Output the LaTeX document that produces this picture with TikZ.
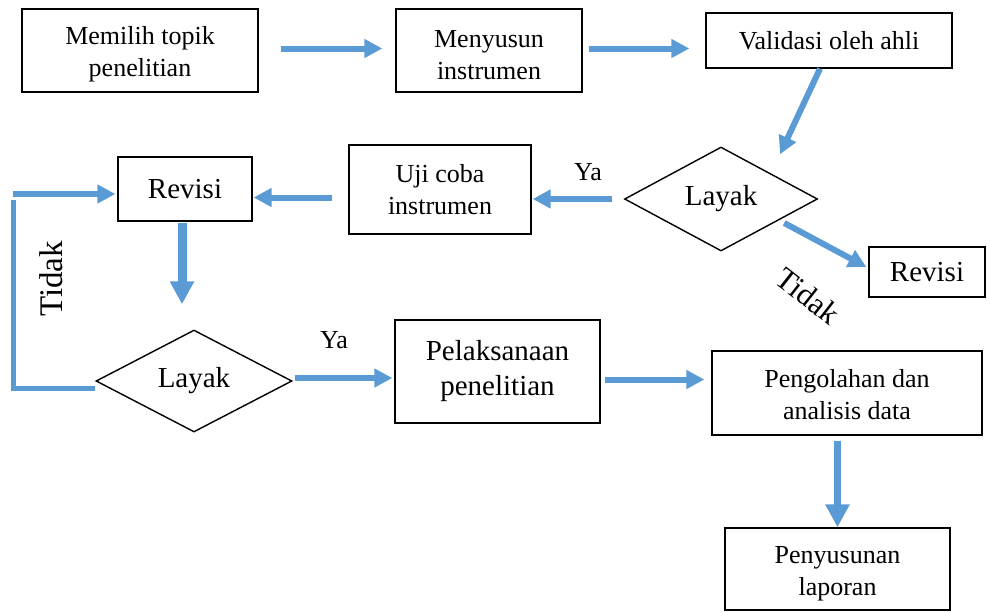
\documentclass[tikz,border=0pt]{standalone}
\usepackage{fontspec}
\setmainfont{Liberation Serif}
\usetikzlibrary{arrows.meta,shapes.geometric,calc}
\definecolor{arrblue}{HTML}{5B9BD5}
\newcommand{\dn}{\rule{0pt}{26pt}}
\begin{document}
\begin{tikzpicture}[x=1pt,y=-1pt,
  box/.style={draw=black,line width=1.3pt,rectangle,inner sep=0pt,align=center,font=\fontsize{26}{32}\selectfont},
  bigtxt/.style={font=\fontsize{29}{35}\selectfont},
  dia/.style={draw=black,line width=1.4pt,diamond,inner sep=0pt,font=\fontsize{29}{35}\selectfont},
  arr/.style={draw=arrblue,line width=6pt,-{Triangle[length=18pt,width=18pt]}},
  thickarr/.style={draw=arrblue,line width=9pt,-{Triangle[length=23pt,width=23pt]}},
  lbl/.style={inner sep=0pt,font=\fontsize{26}{31}\selectfont}]
\useasboundingbox (0,0) rectangle (990,611);
% nodes
\node[box,minimum width=236pt,minimum height=83pt] (b1) at (140,50.5) {\dn Memilih topik\\penelitian};
\node[box,minimum width=186pt,minimum height=83pt] (b2) at (489,50.5) {\dn Menyusun\\instrumen};
\node[box,minimum width=246pt,minimum height=55pt] (b3) at (829,40.5) {Validasi oleh ahli};
\node[dia,minimum width=193pt,minimum height=104pt] (d1) at (721,199) {Layak};
\node[box,bigtxt,minimum width=116pt,minimum height=50pt] (r1) at (927,272) {Revisi};
\node[box,minimum width=182pt,minimum height=89pt] (u) at (440,189.5) {Uji coba\\instrumen};
\node[box,bigtxt,minimum width=134pt,minimum height=64pt] (r2) at (185,189) {Revisi};
\node[dia,minimum width=196pt,minimum height=102pt] (d2) at (194,381) {Layak};
\node[box,bigtxt,minimum width=205pt,minimum height=103pt] (p) at (497.5,371.5) {Pelaksanaan\\penelitian};
\node[box,minimum width=270pt,minimum height=84pt] (g) at (847,393) {\rule{0pt}{22pt}Pengolahan dan\\analisis data};
\node[box,minimum width=225pt,minimum height=82pt] (n) at (837.5,569) {\dn Penyusunan\\laporan};
% labels
\node[lbl] (ya1) at (588,172) {Ya};
\node[lbl] (ya2) at (334,340) {Ya};
\node[lbl,font=\fontsize{31}{36}\selectfont,rotate=-38] (t1) at (808,296) {Tidak};
\node[lbl,font=\fontsize{33}{38}\selectfont,rotate=90] (t2) at (51,279) {Tidak};
% coordinates
\coordinate (a3s) at ($(b3.south)+(-9,0)$);
\coordinate (a3e) at ($(d1.north)+(59,8)$);
\coordinate (a10s) at ($(d1.east)+(-34,24)$);
\coordinate (a10e) at ($(r1.west)+(-2,-5)$);
\coordinate (loopc) at ($(r2.west)+(-104,5)$);
% connectors
\draw[arr,shorten <=22pt,shorten >=13pt] ($(b1.east)+(0,-2)$) -- ($(b2.west)+(0,-2)$);
\draw[arr,shorten <=6pt,shorten >=16pt] ($(b2.east)+(0,-2)$) -- ($(b2.east -| b3.west)+(0,-2)$);
\draw[arr] (a3s) -- (a3e);
\draw[arr,shorten <=12pt,shorten >=1pt] (d1.west) -- (d1.west -| u.east);
\draw[arr,shorten <=16pt,shorten >=1pt] ($(u.west)+(0,8)$) -- ($(u.west -| r2.east)+(0,8)$);
\draw[thickarr,shorten <=1pt,shorten >=25pt] ($(r2.south)+(-3,0)$) -- ($(d2.north)+(-12,0)$);
\draw[arr,shorten <=2pt,shorten >=2pt] ($(d2.east)+(0,-3)$) -- ($(d2.east -| p.west)+(0,-3)$);
\draw[arr,shorten <=4pt,shorten >=7pt] ($(p.east)+(0,8)$) -- ($(p.east -| g.west)+(0,8)$);
\draw[thickarr,line width=7.5pt,shorten <=5pt] (n.north |- g.south) -- (n.north);
\draw[arr] (a10s) -- (a10e);
\draw[draw=arrblue,line width=5pt] ($(d2.west)+(0,7)$) -| ($(loopc)+(0,6)$);
\draw[arr] (loopc) -- ($(r2.west)+(-2,5)$);
\end{tikzpicture}
\end{document}
